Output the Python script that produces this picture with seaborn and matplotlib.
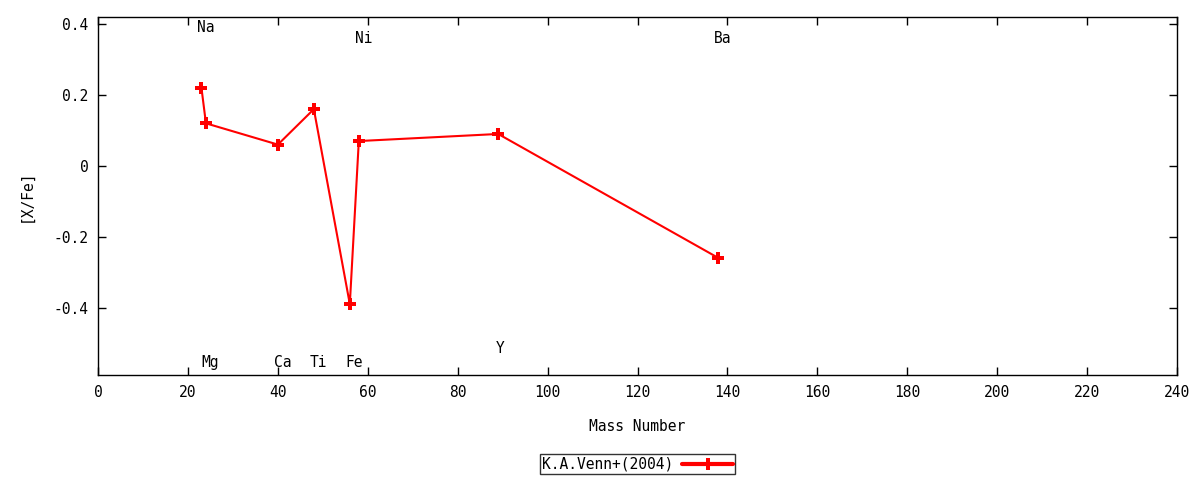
import numpy as np
import pandas as pd
import matplotlib
matplotlib.use('Agg')
import matplotlib.pyplot as plt
import seaborn as sns

# data
elements = ['Na', 'Mg', 'Ca', 'Ti', 'Fe', 'Ni', 'Y', 'Ba']
mass = [23, 24, 40, 48, 56, 58, 89, 138]
x_fe = [0.22, 0.12, 0.06, 0.16, -0.39, 0.07, 0.09, -0.26]

# label positions
label_x = [24, 25, 41, 49, 57, 59, 89.5, 139]
label_y = [0.39, -0.555, -0.555, -0.555, -0.555, 0.36, -0.515, 0.36]

df = pd.DataFrame({'Mass Number': mass, '[X/Fe]': x_fe})

sns.set_theme(style='white')
plt.rcParams['font.family'] = ['DejaVu Sans Mono']
plt.rcParams['text.color'] = 'black'
plt.rcParams['axes.labelcolor'] = 'black'

fig = plt.figure(figsize=(12, 4.8), dpi=100)
ax = fig.add_axes([0.0817, 0.21875, 0.8992, 0.74585])

sns.lineplot(data=df, x='Mass Number', y='[X/Fe]', ax=ax, color='red',
             marker='P', markersize=8.5, markeredgewidth=0, linewidth=1.5,
             label='K.A.Venn+(2004)', sort=False)

for name, lx, ly in zip(elements, label_x, label_y):
    ax.text(lx, ly, name, ha='center', va='center', fontsize=10.5, color='black')

ax.set_xlim(0, 240)
ax.set_ylim(-0.59, 0.42)
ax.set_xticks(np.arange(0, 241, 20))
ax.set_yticks([-0.4, -0.2, 0, 0.2, 0.4])
ax.set_yticklabels(['-0.4', '-0.2', '0', '0.2', '0.4'])
ax.tick_params(direction='in', length=6, width=1, bottom=True, left=True,
               top=True, right=True, labelsize=10.5, colors='black', pad=7)
for s in ax.spines.values():
    s.set_color('black')
    s.set_linewidth(1)

ax.set_xlabel('Mass Number', fontsize=10.5, labelpad=14)
ax.set_ylabel('[X/Fe]', fontsize=10.5, labelpad=14)

leg = ax.legend(loc='upper center', bbox_to_anchor=(0.5, -0.222), frameon=True,
                fancybox=False, edgecolor='black', fontsize=10.5,
                markerfirst=False, handlelength=3.5, borderpad=0.15,
                handletextpad=0.6, borderaxespad=0)
leg.get_frame().set_linewidth(1)
for h in leg.legend_handles:
    h.set_linewidth(3)

fig.savefig('out.png', dpi=100)
